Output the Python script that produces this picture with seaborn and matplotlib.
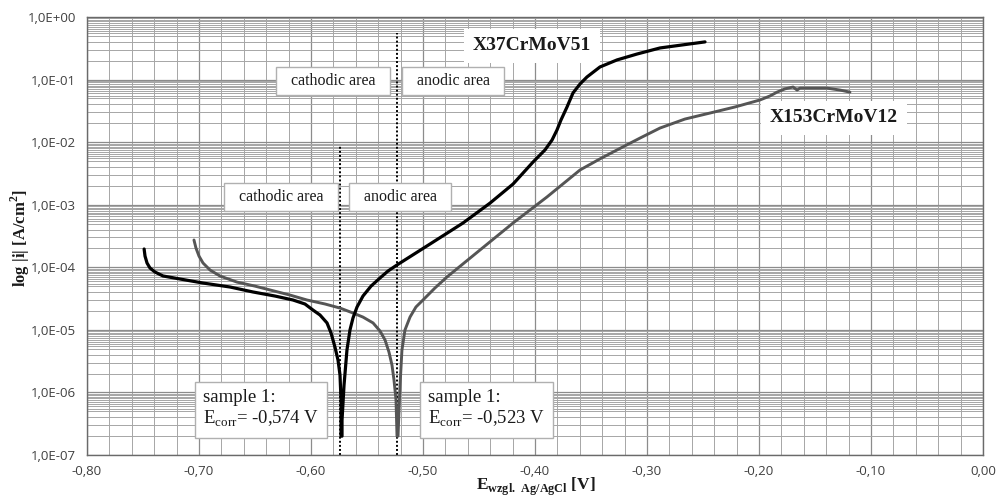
import numpy as np
import pandas as pd
import matplotlib
matplotlib.use("Agg")
import matplotlib.pyplot as plt
import matplotlib.ticker as mticker
import seaborn as sns

# polarization curves, values
E_x37 = [-0.749, -0.7482, -0.7464, -0.7438, -0.7393, -0.7321, -0.717, -0.6964, -0.6723,
         -0.6518, -0.6321, -0.6161, -0.6054, -0.5982, -0.592, -0.5857, -0.5821, -0.5786,
         -0.5759, -0.5741, -0.5732, -0.5732,
         -0.5723, -0.5723, -0.5705, -0.5679, -0.5652, -0.5625, -0.5589, -0.5536, -0.5464,
         -0.5384, -0.5313, -0.5232, -0.4938,
         -0.4643, -0.4402, -0.4196, -0.4018, -0.3911, -0.3848, -0.3804, -0.3768, -0.3714,
         -0.3661, -0.3598, -0.3536, -0.342, -0.3268, -0.3089, -0.2884, -0.2688, -0.2482]
i_x37 = [1.96e-4, 1.51e-4, 1.17e-4, 9.75e-5, 8.4e-5, 7.26e-5, 6.5e-5, 5.6e-5, 4.84e-5,
         4.03e-5, 3.47e-5, 3.0e-5, 2.59e-5, 2.07e-5, 1.73e-5, 1.29e-5, 8.9e-6, 5.3e-6,
         3.3e-6, 1.9e-6, 7.6e-7, 2.0e-7,
         2.0e-7, 3.6e-7, 1.31e-6, 4.76e-6, 9.95e-6, 1.55e-5, 2.32e-5, 3.47e-5, 5.0e-5,
         6.74e-5, 8.7e-5, 1.09e-4, 2.35e-4,
         5.1e-4, 1.06e-3, 2.14e-3, 4.8e-3, 7.5e-3, 1.08e-2, 1.56e-2, 2.26e-2, 3.65e-2,
         6.1e-2, 8.5e-2, 0.11, 0.159, 0.206, 0.256, 0.32, 0.357, 0.40]

E_x153 = [-0.7045, -0.7027, -0.700, -0.6964, -0.6902, -0.6813, -0.6661, -0.650, -0.6366,
          -0.6188, -0.6036, -0.5875, -0.5741, -0.5625, -0.5536, -0.5446, -0.5384, -0.5339,
          -0.5304, -0.5277, -0.5259, -0.5241, -0.5232,
          -0.5223, -0.5214, -0.5205, -0.5188, -0.5161, -0.5116, -0.5063, -0.500, -0.4893,
          -0.4786, -0.4491, -0.4196, -0.3893, -0.3598, -0.342, -0.3268, -0.3063, -0.2884,
          -0.2661, -0.2437, -0.2214, -0.1991, -0.1902, -0.1839, -0.1768, -0.1696, -0.166,
          -0.1634, -0.150, -0.1393, -0.1277, -0.1188]
i_x153 = [2.73e-4, 2.03e-4, 1.51e-4, 1.17e-4, 9.06e-5, 7.26e-5, 5.8e-5, 5.0e-5, 4.34e-5,
          3.6e-5, 3.0e-5, 2.59e-5, 2.23e-5, 1.86e-5, 1.6e-5, 1.29e-5, 9.6e-6, 6.9e-6,
          4.42e-6, 2.74e-6, 1.58e-6, 7.6e-7, 2.0e-7,
          2.0e-7, 5.2e-7, 1.31e-6, 4.76e-6, 9.95e-6, 1.6e-5, 2.32e-5, 3.0e-5, 4.67e-5,
          7.0e-5, 1.89e-4, 5.1e-4, 1.33e-3, 3.59e-3, 5.4e-3, 7.5e-3, 1.16e-2, 1.68e-2,
          2.34e-2, 2.92e-2, 3.65e-2, 4.72e-2, 5.47e-2, 6.3e-2, 7.1e-2, 7.6e-2, 6.8e-2,
          7.3e-2, 7.3e-2, 7.3e-2, 6.8e-2, 6.3e-2]

E_corr = [-0.574, -0.523]
dotted_top = [8.8e-3, 0.55]

x_ticks = [-0.80, -0.70, -0.60, -0.50, -0.40, -0.30, -0.20, -0.10, 0.00]
y_ticks = [1e-7, 1e-6, 1e-5, 1e-4, 1e-3, 1e-2, 1e-1, 1e0]

sns.set_theme(style="white")
plt.rcParams["font.family"] = ["Open Sans", "DejaVu Sans"]
plt.rcParams["mathtext.fontset"] = "custom"
plt.rcParams["mathtext.rm"] = "Liberation Serif"
plt.rcParams["mathtext.bf"] = "Liberation Serif:bold"

serif = ["Liberation Serif", "DejaVu Serif"]

fig = plt.figure(figsize=(9.97, 5.01), dpi=100)
ax = fig.add_axes([87 / 997, 1 - 455 / 501, (983 - 87) / 997, (455 - 17) / 501])

df_a = pd.DataFrame({"E": E_x37, "i": i_x37})
df_b = pd.DataFrame({"E": E_x153, "i": i_x153})

ax.set_yscale("log")
ax.set_xlim(-0.80, 0.0)
ax.set_ylim(1e-7, 1e0)

# grid
ax.xaxis.set_minor_locator(mticker.MultipleLocator(0.02))
ax.yaxis.set_minor_locator(mticker.LogLocator(base=10, subs=[2, 3, 4, 5, 5.5, 6, 6.5, 7, 7.5, 8, 8.5, 9, 9.5], numticks=20))
ax.grid(which="major", color="#8c8c8c", lw=0.9)
ax.grid(which="minor", color="#a6a6a6", lw=0.7)
ax.set_axisbelow(True)
ax.tick_params(which="both", length=0)

sns.lineplot(data=df_b, x="E", y="i", sort=False, estimator=None, color="#555555", lw=2.1, ax=ax)
sns.lineplot(data=df_a, x="E", y="i", sort=False, estimator=None, color="black", lw=2.3, ax=ax)

for e, top in zip(E_corr, dotted_top):
    ax.plot([e, e], [1e-7, top], color="black", lw=1.4, ls=(0, (1, 1.1)), zorder=1.5)

ax.set_xticks(x_ticks)
ax.set_yticks(y_ticks)
ax.set_xticklabels([f"{v:.2f}".replace(".", ",") for v in x_ticks], fontsize=9.5, color="#404040")
ax.set_yticklabels(["1,0E" + ("+" if k >= 0 else "-") + f"{abs(k):02d}" for k in range(-7, 1)],
                   fontsize=9.5, color="#404040")
ax.tick_params(axis="x", pad=7)
ax.tick_params(axis="y", pad=8)
for s in ax.spines.values():
    s.set_color("#6a6a6a")
    s.set_linewidth(1.0)
ax.set_xlabel("")
ax.set_ylabel("")


def label(x, y, s, size=10, weight="normal", ha="center", b=None):
    fig.text(x / 997, 1 - y / 501, s, ha=ha, va="center", fontsize=size, weight=weight,
             family=serif, color="#1a1a1a", bbox=b)


area_box = dict(boxstyle="square,pad=0.4", fc="white", ec="#b0b0b0", lw=1.0)
label(333, 81, "  cathodic area  ", 11.5, b=area_box)
label(453, 81, "  anodic area  ", 11.5, b=area_box)
label(281, 197, "  cathodic area  ", 11.5, b=area_box)
label(400, 197, "  anodic area  ", 11.5, b=area_box)

name_box = dict(boxstyle="square,pad=0.45", fc="white", ec="white", lw=0)
label(532, 46, "X37CrMoV51", 14, "bold", b=name_box)
label(834, 118, "X153CrMoV12", 14, "bold", b=name_box)

s_box = dict(boxstyle="square,pad=0.45", fc="white", ec="#b0b0b0", lw=1.0)
label(203, 409, "sample 1:\nE$_{\\rm corr}$= -0,574 V", 13.5, ha="left", b=s_box)
label(428, 409, "sample 1:\nE$_{\\rm corr}$= -0,523 V", 13.5, ha="left", b=s_box)

fig.text(20 / 997, 1 - 238 / 501, "log |i| [A/cm$^{\\mathbf{2}}$]", rotation=90, ha="center",
         va="center", fontsize=12, weight="bold", family=serif, color="#1a1a1a")
fig.text(536 / 997, 1 - 498 / 501, "$\\mathbf{E}_{\\mathbf{wzgl.\\ Ag/AgCl}}$ [V]", ha="center",
         va="bottom", fontsize=12.5, weight="bold", family=serif, color="#1a1a1a")

fig.savefig("out.png", dpi=100)
